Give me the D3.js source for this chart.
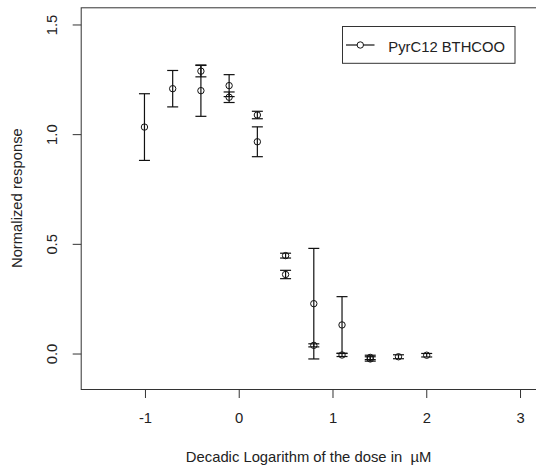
<!DOCTYPE html>
<html>
<head>
<meta charset="utf-8">
<script src="https://cdn.jsdelivr.net/npm/d3@7"></script>
<style>
  html, body { margin: 0; padding: 0; background: #fff; }
  svg { display: block; }
  text { font-family: "Liberation Sans", Arial, sans-serif; fill: #222; }
</style>
</head>
<body>
<script>
// Dose-response of PyrC12 BTHCOO: log10 dose (µM), normalized response, SD
const logDose = [-1, -0.699, -0.398, -0.398, -0.097, -0.097, 0.204, 0.204,
                 0.505, 0.505, 0.806, 0.806, 1.107, 1.107, 1.408, 1.408, 1.709, 2.010];
const response = [1.03, 1.205, 1.285, 1.196, 1.219, 1.166, 1.085, 0.963,
                  0.444, 0.358, 0.225, 0.035, 0.128, -0.009, -0.02, -0.027, -0.017, -0.01];
const sd = [0.152, 0.083, 0.026, 0.117, 0.05, 0.024, 0.017, 0.068,
            0.011, 0.019, 0.252, 0.007, 0.129, 0.007, 0.01, 0.01, 0.009, 0.008];

const xTicks = [-1, 0, 1, 2, 3];
const yTicks = [0, 0.5, 1.0, 1.5];
const seriesName = "PyrC12 BTHCOO";
const xTitle = "Decadic Logarithm of the dose in  µM";
const yTitle = "Normalized response";

const W = 536, H = 470;
const plot = { left: 80.7, right: 536.4, top: 7.3, bottom: 389 };
const fontSize = 14.8;

const svg = d3.select("body").append("svg").attr("width", W).attr("height", H);

const x = d3.scaleLinear().domain([-1.68, 3.18]).range([plot.left, plot.right]);
const y = d3.scaleLinear().domain([-0.164, 1.576]).range([plot.bottom, plot.top]);

// Frame
svg.append("rect")
  .attr("x", plot.left + 0.5).attr("y", plot.top + 0.5)
  .attr("width", plot.right - plot.left).attr("height", plot.bottom - plot.top)
  .attr("fill", "none").attr("stroke", "#333").attr("stroke-width", 1);

// X axis
const gx = svg.append("g")
  .attr("transform", `translate(0.5,${plot.bottom + 0.5})`)
  .call(d3.axisBottom(x).tickValues(xTicks).tickFormat(d => String(d))
        .tickSize(8.5).tickPadding(14));
gx.select(".domain").remove();
gx.selectAll(".tick line").attr("stroke", "#333");
gx.selectAll(".tick text").attr("font-size", fontSize).attr("font-family", null).attr("fill", "#222");

// Y axis with rotated labels
const gy = svg.append("g")
  .attr("transform", `translate(${plot.left + 0.5},0.5)`)
  .call(d3.axisLeft(y).tickValues(yTicks).tickFormat(d3.format(".1f")).tickSize(8.5));
gy.select(".domain").remove();
gy.selectAll(".tick line").attr("stroke", "#333");
gy.selectAll(".tick text")
  .attr("font-size", fontSize).attr("font-family", null).attr("fill", "#222")
  .attr("x", null).attr("dy", null)
  .attr("text-anchor", "middle")
  .attr("transform", "translate(-24,0) rotate(-90)");

// Axis titles
svg.append("text")
  .attr("x", (plot.left + plot.right) / 2).attr("y", 461.5)
  .attr("text-anchor", "middle").attr("font-size", fontSize)
  .style("white-space", "pre")
  .text(xTitle);

svg.append("text")
  .attr("transform", `translate(22.3,${(plot.top + plot.bottom) / 2}) rotate(-90)`)
  .attr("text-anchor", "middle").attr("font-size", fontSize)
  .text(yTitle);

// Error bars and points
const data = logDose.map((d, i) => ({ x: d, y: response[i], sd: sd[i] }));
const capHalf = 5.5;
const marks = svg.append("g").attr("stroke", "#111").attr("fill", "none").attr("stroke-width", 1.2);

const eb = marks.selectAll("g.eb").data(data).join("g").attr("class", "eb");
eb.append("line")
  .attr("x1", d => x(d.x)).attr("x2", d => x(d.x))
  .attr("y1", d => y(d.y + d.sd)).attr("y2", d => y(d.y - d.sd));
eb.append("line")
  .attr("x1", d => x(d.x) - capHalf).attr("x2", d => x(d.x) + capHalf)
  .attr("y1", d => y(d.y + d.sd)).attr("y2", d => y(d.y + d.sd));
eb.append("line")
  .attr("x1", d => x(d.x) - capHalf).attr("x2", d => x(d.x) + capHalf)
  .attr("y1", d => y(d.y - d.sd)).attr("y2", d => y(d.y - d.sd));

marks.selectAll("circle").data(data).join("circle")
  .attr("cx", d => x(d.x)).attr("cy", d => y(d.y)).attr("r", 3.2)
  .attr("stroke-width", 1);

// Legend
const lg = svg.append("g");
lg.append("rect")
  .attr("x", 342.5).attr("y", 26.5).attr("width", 172.5).attr("height", 36.8)
  .attr("fill", "#fff").attr("stroke", "#333").attr("stroke-width", 1);
lg.append("line")
  .attr("x1", 346).attr("x2", 374.5).attr("y1", 45).attr("y2", 45)
  .attr("stroke", "#111").attr("stroke-width", 1.2);
lg.append("circle")
  .attr("cx", 360.3).attr("cy", 45).attr("r", 3.2)
  .attr("fill", "#fff").attr("stroke", "#111").attr("stroke-width", 1);
lg.append("text")
  .attr("x", 388.3).attr("y", 52).attr("font-size", fontSize)
  .text(seriesName);
</script>
</body>
</html>
